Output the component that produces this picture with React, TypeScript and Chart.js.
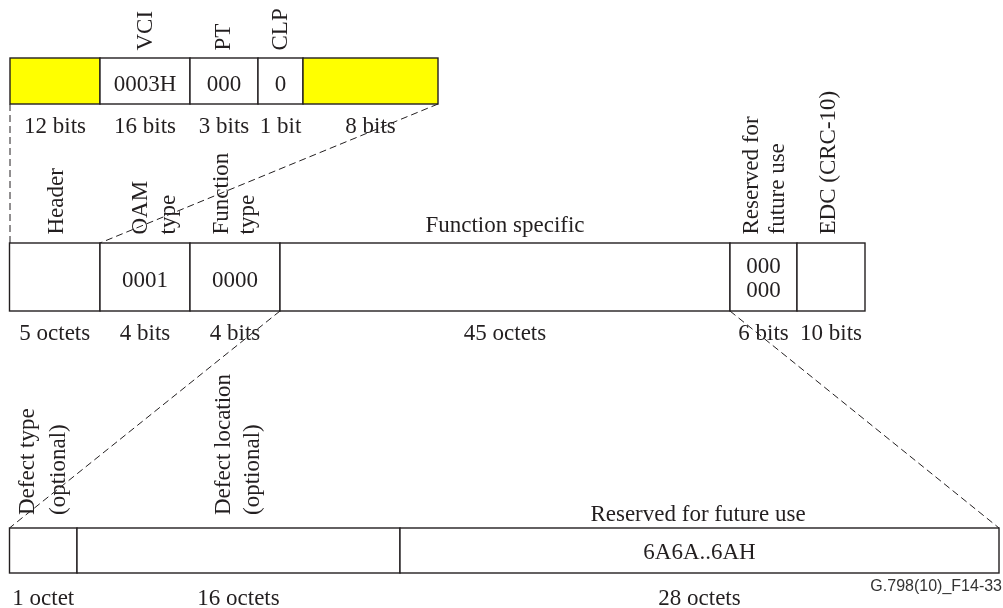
import React, { useEffect, useRef } from 'react';
import { Chart, registerables } from 'chart.js';

Chart.register(...registerables);

// ---------- DATA ----------
// Row 1: ATM cell header
const topEdges = [10, 100, 190, 258, 303, 438];
const topValues = ['', '0003H', '000', '0', ''];
const topSizes = ['12 bits', '16 bits', '3 bits', '1 bit', '8 bits'];
const topHeads = ['', 'VCI', 'PT', 'CLP', ''];
const topHighlighted = [true, false, false, false, true];

// Row 2: OAM cell
const midEdges = [9.5, 100, 190, 280, 730, 797, 865];
const midValues = [[], ['0001'], ['0000'], [], ['000', '000'], []];
const midSizes = ['5 octets', '4 bits', '4 bits', '45 octets', '6 bits', '10 bits'];
const midHeads = [['Header'], ['OAM', 'type'], ['Function', 'type'], ['Function specific'], ['Reserved for', 'future use'], ['EDC (CRC-10)']];

// Row 3: function specific field
const botEdges = [9.5, 77, 400, 999];
const botValues = ['', '', '6A6A..6AH'];
const botSizes = ['1 octet', '16 octets', '28 octets'];
const botHeads = [['Defect type', '(optional)'], ['Defect location', '(optional)'], ['Reserved for future use']];

const figureId = 'G.798(10)_F14-33';

// ---------- LAYOUT (positions / styles) ----------
const topRowY = [58, 104];
const midRowY = [243, 311];
const botRowY = [528, 573];
const topHeadBaseX = [[], [152], [230], [287], []];
const midHeadBaseX = [[63], [146.5, 175], [228, 253.5], [], [757.5, 784], [835]];
const botHeadBaseX = [[34, 65], [230, 258.5], []];
const topHeadBottom = 50.5;
const midHeadBottom = 234.5;
const botHeadBottom = 515;
const INK = '#231f20';
const YELLOW = '#ffff00';
const SERIF = '23px "Liberation Serif", "Times New Roman", serif';

const diagramPlugin = {
  id: 'diagram',
  afterDraw(chart: any) {
    const { ctx, scales } = chart;
    const sx = (v: number) => scales.x.getPixelForValue(v);
    const sy = (v: number) => scales.y.getPixelForValue(v);
    ctx.save();

    const drawRow = (edges: number[], rowY: number[], fills: (string | null)[]) => {
      const y0 = sy(rowY[0]);
      const y1 = sy(rowY[1]);
      for (let i = 0; i < edges.length - 1; i++) {
        const x0 = sx(edges[i]);
        const x1 = sx(edges[i + 1]);
        ctx.fillStyle = fills[i] || '#ffffff';
        ctx.fillRect(x0, y0, x1 - x0, y1 - y0);
        ctx.lineWidth = 1.4;
        ctx.strokeStyle = INK;
        ctx.strokeRect(x0, y0, x1 - x0, y1 - y0);
      }
    };

    drawRow(topEdges, topRowY, topHighlighted.map((h) => (h ? YELLOW : null)));
    drawRow(midEdges, midRowY, midEdges.slice(1).map(() => null));
    drawRow(botEdges, botRowY, botEdges.slice(1).map(() => null));

    // dashed zoom connectors
    const links = [
      [topEdges[0], topRowY[1], topEdges[0], midRowY[0]],
      [topEdges[topEdges.length - 1], topRowY[1], midEdges[1], midRowY[0]],
      [midEdges[3], midRowY[1], botEdges[0], botRowY[0]],
      [midEdges[4], midRowY[1], botEdges[botEdges.length - 1], botRowY[0]],
    ];
    ctx.setLineDash([7, 4]);
    ctx.lineWidth = 1;
    ctx.strokeStyle = INK;
    links.forEach(([a, b, c, d]) => {
      ctx.beginPath();
      ctx.moveTo(sx(a), sy(b));
      ctx.lineTo(sx(c), sy(d));
      ctx.stroke();
    });
    ctx.setLineDash([]);

    // texts
    ctx.fillStyle = INK;
    ctx.font = SERIF;
    const hText = (s: string, x: number, y: number) => {
      ctx.textAlign = 'center';
      ctx.textBaseline = 'alphabetic';
      ctx.fillText(s, x, y);
    };
    const vText = (s: string, x: number, y: number) => {
      ctx.save();
      ctx.translate(x, y);
      ctx.rotate(-Math.PI / 2);
      ctx.textAlign = 'left';
      ctx.textBaseline = 'alphabetic';
      ctx.fillText(s, 0, 0);
      ctx.restore();
    };
    const mid = (edges: number[], i: number) => sx((edges[i] + edges[i + 1]) / 2);

    // top row
    topValues.forEach((v, i) => v && hText(v, mid(topEdges, i), sy(90.5)));
    topSizes.forEach((v, i) => hText(v, mid(topEdges, i), sy(133)));
    topHeads.forEach((v, i) => v && vText(v, sx(topHeadBaseX[i][0]), sy(topHeadBottom)));

    // middle row
    const midValueBase = [[286.5], [272.5, 297]];
    midValues.forEach((lines, i) => {
      const bases = lines.length === 1 ? midValueBase[0] : midValueBase[1];
      lines.forEach((s, k) => hText(s, mid(midEdges, i), sy(bases[k])));
    });
    midSizes.forEach((v, i) => hText(v, mid(midEdges, i), sy(340)));
    midHeads.forEach((lines, i) => {
      if (midHeadBaseX[i].length === 0) {
        hText(lines[0], mid(midEdges, i), sy(232));
      } else {
        lines.forEach((s, k) => vText(s, sx(midHeadBaseX[i][k]), sy(midHeadBottom)));
      }
    });

    // bottom row
    botValues.forEach((v, i) => v && hText(v, mid(botEdges, i), sy(559)));
    botSizes.forEach((v, i) => hText(v, mid(botEdges, i), sy(605)));
    botHeads.forEach((lines, i) => {
      if (botHeadBaseX[i].length === 0) {
        hText(lines[0], sx(698), sy(521));
      } else {
        lines.forEach((s, k) => vText(s, sx(botHeadBaseX[i][k]), sy(botHeadBottom)));
      }
    });

    // figure id
    ctx.font = '16px "Liberation Sans", Arial, sans-serif';
    ctx.fillStyle = '#333333';
    ctx.textAlign = 'right';
    ctx.fillText(figureId, sx(1002), sy(591));

    ctx.restore();
  },
};

export default function App() {
  const ref = useRef<HTMLCanvasElement | null>(null);
  useEffect(() => {
    if (!ref.current) return;
    const chart = new Chart(ref.current, {
      type: 'scatter',
      data: { datasets: [{ data: [], pointRadius: 0 }] },
      options: {
        animation: false,
        responsive: false,
        events: [],
        layout: { padding: 0 },
        plugins: { legend: { display: false }, tooltip: { enabled: false } },
        scales: {
          x: { type: 'linear', min: 0, max: 1003, display: false },
          y: { type: 'linear', min: 0, max: 608, reverse: true, display: false },
        },
      },
      plugins: [diagramPlugin],
    });
    return () => chart.destroy();
  }, []);
  return (
    <div style={{ position: 'absolute', left: 0, top: 0, width: 1003, height: 608, background: '#fff' }}>
      <canvas ref={ref} width={1003} height={608} style={{ display: 'block' }} />
    </div>
  );
}
